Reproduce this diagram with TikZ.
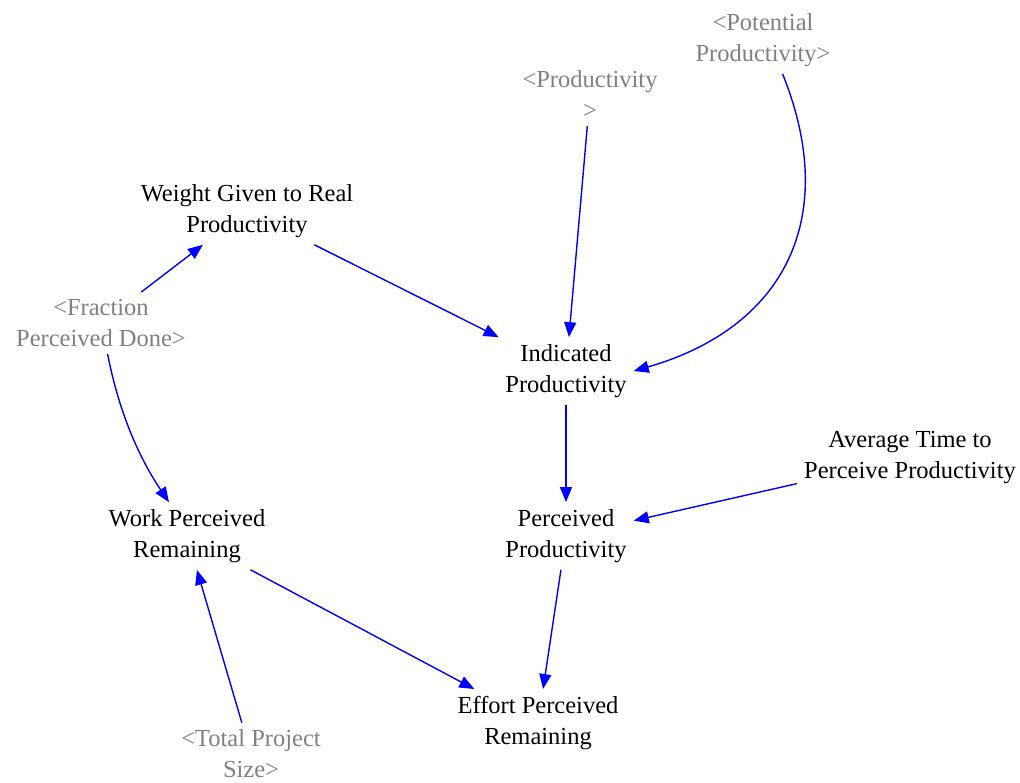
\documentclass[tikz,border=0pt]{standalone}
\usepackage{fontspec}
\setmainfont{Liberation Serif}
\usetikzlibrary{arrows.meta}
\definecolor{shadowgray}{RGB}{128,128,128}
\tikzset{
  var/.style={align=center, inner sep=7pt, font=\fontsize{24.5}{31}\selectfont, text=black},
  shadow/.style={var, text=shadowgray},
  link/.style={draw=blue, line width=1.4pt, -{Triangle[length=15pt,width=12pt]}},
}
\begin{document}
\begin{tikzpicture}[x=1pt,y=1pt]
\useasboundingbox (0,0) rectangle (1020,783);
\node[var] (weight) at (247,572) {Weight Given to Real\\Productivity};
\node[shadow] (prod) at (590,688) {<Productivity\\>};
\node[shadow] (pot) at (763,743) {<Potential\\Productivity>};
\node[shadow] (frac) at (101,460) {<Fraction\\Perceived Done>};
\node[var] (ind) at (566,412) {Indicated\\Productivity};
\node[var] (avg) at (910,325) {Average Time to\\Perceive Productivity};
\node[var] (perc) at (566,247) {Perceived\\Productivity};
\node[var] (work) at (187,247) {Work Perceived\\Remaining};
\node[var] (effort) at (538,60) {Effort Perceived\\Remaining};
\node[shadow] (total) at (251,29) {<Total Project\\Size>};

\draw[link] (frac) -- (weight);
\draw[link] (weight) -- (ind);
\draw[link] (prod) -- (ind);
\draw[link] (pot.-60) to[out=-68, in=16, looseness=1.2] (ind.east);
\draw[link] (ind) -- (perc);
\draw[link] (avg) -- (perc);
\draw[link] (frac.-78) to[out=-79, in=124, looseness=0.9] (work.118);
\draw[link] (perc) -- (effort);
\draw[link] (work) -- (effort);
\draw[link] (total) -- (work);
\end{tikzpicture}
\end{document}
